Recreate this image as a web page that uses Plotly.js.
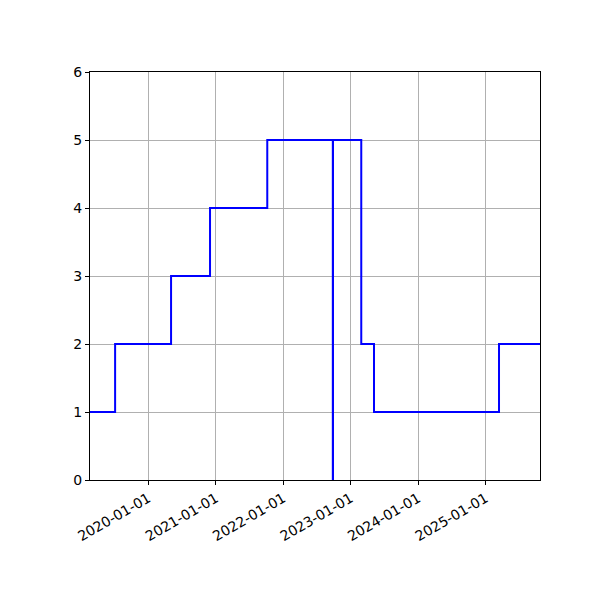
<!DOCTYPE html>
<html>
<head>
<meta charset="utf-8">
<script src="https://cdn.plot.ly/plotly-3.0.1.min.js"></script>
<style>
  html, body { margin: 0; padding: 0; background: #fff; }
  #chart { width: 600px; height: 600px; }
</style>
</head>
<body>
<div id="chart"></div>
<script>
// step dates and the value that holds from each date on
const dates = [
    '2019-02-19', '2019-07-05', '2020-05-03', '2020-11-30', '2021-10-06',
    '2022-09-26', '2022-09-27', '2023-02-27', '2023-05-07', '2025-03-14',
    '2025-10-22'
];
const values = [1, 2, 3, 4, 5, 0, 5, 2, 1, 2, 2];

const tickDates = ['2020-01-01', '2021-01-01', '2022-01-01', '2023-01-01', '2024-01-01', '2025-01-01'];

const trace = {
    x: dates,
    y: values,
    type: 'scatter',
    mode: 'lines',
    line: { shape: 'hv', color: '#0000ff', width: 2 },
    hoverinfo: 'x+y'
};

const axisCommon = {
    showline: true,
    linecolor: '#000',
    linewidth: 1,
    mirror: true,
    ticks: 'outside',
    ticklen: 4,
    tickwidth: 1,
    tickcolor: '#000',
    showgrid: true,
    gridcolor: '#b0b0b0',
    gridwidth: 1,
    zeroline: false,
    tickfont: { family: 'DejaVu Sans', size: 14, color: '#000' }
};

const layout = {
    width: 600,
    height: 600,
    margin: { l: 90, r: 60, t: 72, b: 120 },
    paper_bgcolor: '#fff',
    plot_bgcolor: '#fff',
    showlegend: false,
    xaxis: Object.assign({}, axisCommon, {
        type: 'date',
        range: [dates[0], dates[dates.length - 1]],
        tickmode: 'array',
        tickvals: tickDates,
        ticktext: tickDates,
        tickangle: -30
    }),
    yaxis: Object.assign({}, axisCommon, {
        range: [0, 6],
        tickmode: 'linear',
        tick0: 0,
        dtick: 1
    })
};

Plotly.newPlot('chart', [trace], layout, { displayModeBar: false, staticPlot: true });
</script>
</body>
</html>
